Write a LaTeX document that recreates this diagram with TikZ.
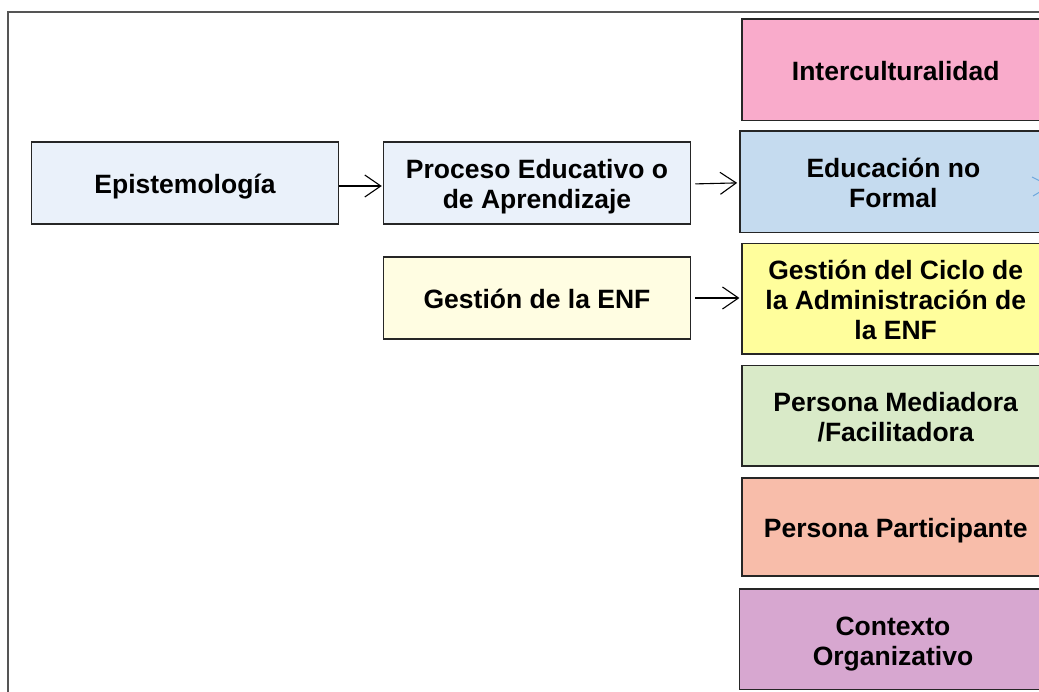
\documentclass[tikz,border=0pt]{standalone}
\usepackage{fontspec}
\setmainfont{Liberation Sans}
\usetikzlibrary{arrows.meta}
\definecolor{cEpi}{HTML}{EAF1FA}
\definecolor{cGes}{HTML}{FFFDE2}
\definecolor{cInt}{HTML}{F9ABCB}
\definecolor{cEdu}{HTML}{C5DBEF}
\definecolor{cCic}{HTML}{FFFE9C}
\definecolor{cMed}{HTML}{D9EAC8}
\definecolor{cPar}{HTML}{F8BDAA}
\definecolor{cCon}{HTML}{D7A7D0}
\definecolor{cFrame}{HTML}{555555}
\definecolor{cBlue}{HTML}{6FA8DC}
\newcommand\boxtxt[1]{\raisebox{-5pt}[\height][\depth]{\begin{tabular}{@{}c@{}}#1\end{tabular}}}
\tikzset{
  box/.style={draw=black!85, line width=1.5pt, inner sep=0pt,
    font=\bfseries\fontsize{26.5}{30}\selectfont},
  lbox/.style={box, minimum width=307pt, minimum height=82pt},
  rbox/.style={box, minimum width=307pt},
  arr/.style={line width=1.1pt, -{Straight Barb[length=16pt,width=22pt,line width=1.1pt]}},
}
\begin{document}
\begin{tikzpicture}[x=1pt,y=-1pt]
\useasboundingbox (0,0) rectangle (1039,692);
\clip (0,0) rectangle (1039,692);
\fill[white] (0,0) rectangle (1039,692);
\draw[cFrame, line width=1.5pt] (8,12) rectangle (1070,720);

\node[lbox, fill=cEpi] (epi) at (185,183) {\boxtxt{Epistemología}};
\node[lbox, fill=cEpi] (proc) at (537,183) {\boxtxt{Proceso Educativo o\\de Aprendizaje}};
\node[lbox, fill=cGes] (gest) at (537,298) {\boxtxt{Gestión de la ENF}};

\node[rbox, fill=cInt, minimum height=101.7pt] (inter) at (895.7,69.9) {\boxtxt{Interculturalidad}};
\node[rbox, fill=cEdu, minimum height=101.7pt] (edu) at (893.4,181.9) {\boxtxt{Educación no\\Formal}};
\node[rbox, fill=cCic, minimum height=110.7pt] (ciclo) at (895.7,298.7) {\boxtxt{Gestión del Ciclo de\\la Administración de\\la ENF}};
\node[rbox, fill=cMed, minimum height=100.3pt] (med) at (895.7,415.9) {\boxtxt{Persona Mediadora\\/Facilitadora}};
\node[rbox, fill=cPar, minimum height=98.3pt] (part) at (895.7,526.9) {\boxtxt{Persona Participante}};
\node[rbox, fill=cCon, minimum height=100.3pt] (cont) at (893,639.2) {\boxtxt{Contexto\\Organizativo}};

\draw[arr] ([yshift=-3pt]epi.east) -- ([yshift=-3pt,xshift=-1pt]proc.west);
\draw[arr, shorten <=4pt] ([yshift=-1pt]proc.east) -- ([yshift=-1pt,xshift=-2pt]edu.west);
\draw[arr, shorten <=4pt] (gest.east) -- ([xshift=-2pt]gest.east -| ciclo.west);

\coordinate (bt) at (1050,186);
\coordinate (ba) at (1032,177);
\coordinate (bb) at (1033,196);
\draw[cBlue, line width=1pt] (ba) -- (bt) -- (bb);
\end{tikzpicture}
\end{document}
